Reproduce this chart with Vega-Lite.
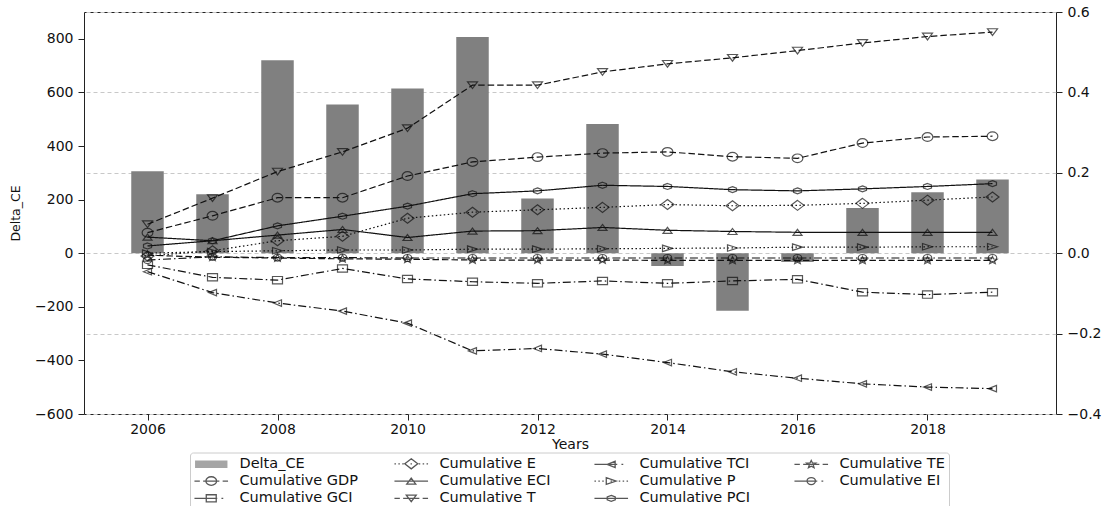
{
  "$schema": "https://vega.github.io/schema/vega-lite/v6.json",
  "width": 972,
  "height": 402,
  "autosize": {"type": "none"},
  "padding": {"left": 84, "top": 12, "right": 50, "bottom": 92},
  "background": "white",
  "datasets": {
    "bars": [
      {"year": 2006, "Delta_CE": 306}, {"year": 2007, "Delta_CE": 220}, {"year": 2008, "Delta_CE": 720},
      {"year": 2009, "Delta_CE": 555}, {"year": 2010, "Delta_CE": 615}, {"year": 2011, "Delta_CE": 807},
      {"year": 2012, "Delta_CE": 204}, {"year": 2013, "Delta_CE": 482}, {"year": 2014, "Delta_CE": -48},
      {"year": 2015, "Delta_CE": -215}, {"year": 2016, "Delta_CE": -33}, {"year": 2017, "Delta_CE": 169},
      {"year": 2018, "Delta_CE": 227}, {"year": 2019, "Delta_CE": 275}
    ],
    "lines": [
      {"year": 2006, "series": "Cumulative GDP", "v": 0.051}, {"year": 2007, "series": "Cumulative GDP", "v": 0.093}, {"year": 2008, "series": "Cumulative GDP", "v": 0.138}, {"year": 2009, "series": "Cumulative GDP", "v": 0.138}, {"year": 2010, "series": "Cumulative GDP", "v": 0.192}, {"year": 2011, "series": "Cumulative GDP", "v": 0.227}, {"year": 2012, "series": "Cumulative GDP", "v": 0.239}, {"year": 2013, "series": "Cumulative GDP", "v": 0.249}, {"year": 2014, "series": "Cumulative GDP", "v": 0.252}, {"year": 2015, "series": "Cumulative GDP", "v": 0.240}, {"year": 2016, "series": "Cumulative GDP", "v": 0.236}, {"year": 2017, "series": "Cumulative GDP", "v": 0.274}, {"year": 2018, "series": "Cumulative GDP", "v": 0.289}, {"year": 2019, "series": "Cumulative GDP", "v": 0.291},
      {"year": 2006, "series": "Cumulative T", "v": 0.072}, {"year": 2007, "series": "Cumulative T", "v": 0.137}, {"year": 2008, "series": "Cumulative T", "v": 0.203}, {"year": 2009, "series": "Cumulative T", "v": 0.252}, {"year": 2010, "series": "Cumulative T", "v": 0.311}, {"year": 2011, "series": "Cumulative T", "v": 0.418}, {"year": 2012, "series": "Cumulative T", "v": 0.418}, {"year": 2013, "series": "Cumulative T", "v": 0.451}, {"year": 2014, "series": "Cumulative T", "v": 0.471}, {"year": 2015, "series": "Cumulative T", "v": 0.486}, {"year": 2016, "series": "Cumulative T", "v": 0.504}, {"year": 2017, "series": "Cumulative T", "v": 0.523}, {"year": 2018, "series": "Cumulative T", "v": 0.539}, {"year": 2019, "series": "Cumulative T", "v": 0.550},
      {"year": 2006, "series": "Cumulative PCI", "v": 0.018}, {"year": 2007, "series": "Cumulative PCI", "v": 0.031}, {"year": 2008, "series": "Cumulative PCI", "v": 0.068}, {"year": 2009, "series": "Cumulative PCI", "v": 0.092}, {"year": 2010, "series": "Cumulative PCI", "v": 0.117}, {"year": 2011, "series": "Cumulative PCI", "v": 0.148}, {"year": 2012, "series": "Cumulative PCI", "v": 0.155}, {"year": 2013, "series": "Cumulative PCI", "v": 0.169}, {"year": 2014, "series": "Cumulative PCI", "v": 0.166}, {"year": 2015, "series": "Cumulative PCI", "v": 0.158}, {"year": 2016, "series": "Cumulative PCI", "v": 0.155}, {"year": 2017, "series": "Cumulative PCI", "v": 0.160}, {"year": 2018, "series": "Cumulative PCI", "v": 0.166}, {"year": 2019, "series": "Cumulative PCI", "v": 0.173},
      {"year": 2006, "series": "Cumulative E", "v": -0.007}, {"year": 2007, "series": "Cumulative E", "v": 0.006}, {"year": 2008, "series": "Cumulative E", "v": 0.031}, {"year": 2009, "series": "Cumulative E", "v": 0.042}, {"year": 2010, "series": "Cumulative E", "v": 0.087}, {"year": 2011, "series": "Cumulative E", "v": 0.102}, {"year": 2012, "series": "Cumulative E", "v": 0.108}, {"year": 2013, "series": "Cumulative E", "v": 0.114}, {"year": 2014, "series": "Cumulative E", "v": 0.121}, {"year": 2015, "series": "Cumulative E", "v": 0.118}, {"year": 2016, "series": "Cumulative E", "v": 0.119}, {"year": 2017, "series": "Cumulative E", "v": 0.124}, {"year": 2018, "series": "Cumulative E", "v": 0.132}, {"year": 2019, "series": "Cumulative E", "v": 0.140},
      {"year": 2006, "series": "Cumulative ECI", "v": 0.040}, {"year": 2007, "series": "Cumulative ECI", "v": 0.031}, {"year": 2008, "series": "Cumulative ECI", "v": 0.045}, {"year": 2009, "series": "Cumulative ECI", "v": 0.059}, {"year": 2010, "series": "Cumulative ECI", "v": 0.039}, {"year": 2011, "series": "Cumulative ECI", "v": 0.055}, {"year": 2012, "series": "Cumulative ECI", "v": 0.056}, {"year": 2013, "series": "Cumulative ECI", "v": 0.064}, {"year": 2014, "series": "Cumulative ECI", "v": 0.057}, {"year": 2015, "series": "Cumulative ECI", "v": 0.054}, {"year": 2016, "series": "Cumulative ECI", "v": 0.052}, {"year": 2017, "series": "Cumulative ECI", "v": 0.052}, {"year": 2018, "series": "Cumulative ECI", "v": 0.052}, {"year": 2019, "series": "Cumulative ECI", "v": 0.052},
      {"year": 2006, "series": "Cumulative P", "v": 0.000}, {"year": 2007, "series": "Cumulative P", "v": 0.004}, {"year": 2008, "series": "Cumulative P", "v": 0.006}, {"year": 2009, "series": "Cumulative P", "v": 0.008}, {"year": 2010, "series": "Cumulative P", "v": 0.008}, {"year": 2011, "series": "Cumulative P", "v": 0.010}, {"year": 2012, "series": "Cumulative P", "v": 0.010}, {"year": 2013, "series": "Cumulative P", "v": 0.011}, {"year": 2014, "series": "Cumulative P", "v": 0.012}, {"year": 2015, "series": "Cumulative P", "v": 0.013}, {"year": 2016, "series": "Cumulative P", "v": 0.015}, {"year": 2017, "series": "Cumulative P", "v": 0.015}, {"year": 2018, "series": "Cumulative P", "v": 0.016}, {"year": 2019, "series": "Cumulative P", "v": 0.016},
      {"year": 2006, "series": "Cumulative EI", "v": -0.017}, {"year": 2007, "series": "Cumulative EI", "v": -0.009}, {"year": 2008, "series": "Cumulative EI", "v": -0.011}, {"year": 2009, "series": "Cumulative EI", "v": -0.011}, {"year": 2010, "series": "Cumulative EI", "v": -0.012}, {"year": 2011, "series": "Cumulative EI", "v": -0.012}, {"year": 2012, "series": "Cumulative EI", "v": -0.012}, {"year": 2013, "series": "Cumulative EI", "v": -0.012}, {"year": 2014, "series": "Cumulative EI", "v": -0.012}, {"year": 2015, "series": "Cumulative EI", "v": -0.012}, {"year": 2016, "series": "Cumulative EI", "v": -0.012}, {"year": 2017, "series": "Cumulative EI", "v": -0.012}, {"year": 2018, "series": "Cumulative EI", "v": -0.012}, {"year": 2019, "series": "Cumulative EI", "v": -0.012},
      {"year": 2006, "series": "Cumulative TE", "v": -0.005}, {"year": 2007, "series": "Cumulative TE", "v": -0.010}, {"year": 2008, "series": "Cumulative TE", "v": -0.012}, {"year": 2009, "series": "Cumulative TE", "v": -0.014}, {"year": 2010, "series": "Cumulative TE", "v": -0.015}, {"year": 2011, "series": "Cumulative TE", "v": -0.017}, {"year": 2012, "series": "Cumulative TE", "v": -0.017}, {"year": 2013, "series": "Cumulative TE", "v": -0.017}, {"year": 2014, "series": "Cumulative TE", "v": -0.018}, {"year": 2015, "series": "Cumulative TE", "v": -0.018}, {"year": 2016, "series": "Cumulative TE", "v": -0.018}, {"year": 2017, "series": "Cumulative TE", "v": -0.018}, {"year": 2018, "series": "Cumulative TE", "v": -0.018}, {"year": 2019, "series": "Cumulative TE", "v": -0.018},
      {"year": 2006, "series": "Cumulative GCI", "v": -0.029}, {"year": 2007, "series": "Cumulative GCI", "v": -0.060}, {"year": 2008, "series": "Cumulative GCI", "v": -0.067}, {"year": 2009, "series": "Cumulative GCI", "v": -0.038}, {"year": 2010, "series": "Cumulative GCI", "v": -0.064}, {"year": 2011, "series": "Cumulative GCI", "v": -0.071}, {"year": 2012, "series": "Cumulative GCI", "v": -0.075}, {"year": 2013, "series": "Cumulative GCI", "v": -0.069}, {"year": 2014, "series": "Cumulative GCI", "v": -0.075}, {"year": 2015, "series": "Cumulative GCI", "v": -0.069}, {"year": 2016, "series": "Cumulative GCI", "v": -0.065}, {"year": 2017, "series": "Cumulative GCI", "v": -0.097}, {"year": 2018, "series": "Cumulative GCI", "v": -0.103}, {"year": 2019, "series": "Cumulative GCI", "v": -0.097},
      {"year": 2006, "series": "Cumulative TCI", "v": -0.046}, {"year": 2007, "series": "Cumulative TCI", "v": -0.098}, {"year": 2008, "series": "Cumulative TCI", "v": -0.124}, {"year": 2009, "series": "Cumulative TCI", "v": -0.144}, {"year": 2010, "series": "Cumulative TCI", "v": -0.174}, {"year": 2011, "series": "Cumulative TCI", "v": -0.243}, {"year": 2012, "series": "Cumulative TCI", "v": -0.237}, {"year": 2013, "series": "Cumulative TCI", "v": -0.251}, {"year": 2014, "series": "Cumulative TCI", "v": -0.272}, {"year": 2015, "series": "Cumulative TCI", "v": -0.295}, {"year": 2016, "series": "Cumulative TCI", "v": -0.311}, {"year": 2017, "series": "Cumulative TCI", "v": -0.325}, {"year": 2018, "series": "Cumulative TCI", "v": -0.333}, {"year": 2019, "series": "Cumulative TCI", "v": -0.337}
    ]
  },
  "layer": [
    {
      "data": {"name": "bars"},
      "mark": {"type": "bar", "width": 32.5, "color": "#808080"},
      "encoding": {
        "x": {"field": "year", "type": "quantitative", "scale": {"domain": [2005.1, 2019.9], "nice": false, "zero": false},
              "axis": {"values": [2006, 2008, 2010, 2012, 2014, 2016, 2018], "format": "d", "title": "Years", "grid": false, "titlePadding": 1, "labelPadding": 2}},
        "y": {"field": "Delta_CE", "type": "quantitative", "scale": {"domain": [-600, 900], "nice": false},
              "axis": {"values": [-600, -400, -200, 0, 200, 400, 600, 800], "format": "d", "title": "Delta_CE", "titleFontSize": 12.5, "grid": false, "titlePadding": 12, "labelPadding": 5}}
      }
    },
    {
      "data": {"name": "lines"},
      "encoding": {
        "x": {"field": "year", "type": "quantitative", "scale": {"domain": [2005.1, 2019.9], "nice": false, "zero": false},
              "axis": {"values": [2006, 2008, 2010, 2012, 2014, 2016, 2018], "format": "d", "title": "Years", "grid": false, "titlePadding": 1, "labelPadding": 2}},
        "y": {"field": "v", "type": "quantitative", "scale": {"domain": [-0.4, 0.6], "nice": false, "zero": false},
              "axis": {"orient": "right", "values": [-0.4, -0.2, 0, 0.2, 0.4, 0.6], "format": ".1f", "title": null, "grid": true, "gridDash": [4, 3], "gridColor": "#c8c8c8", "gridWidth": 1, "labelPadding": 5}}
      },
      "layer": [
        {
          "mark": {"type": "line", "color": "#111111", "strokeWidth": 1.2},
          "encoding": {
            "strokeDash": {"field": "series", "type": "nominal", "legend": null,
              "scale": {"domain": ["Cumulative GDP", "Cumulative GCI", "Cumulative E", "Cumulative ECI", "Cumulative T", "Cumulative TCI", "Cumulative P", "Cumulative PCI", "Cumulative TE", "Cumulative EI"],
                        "range": [[6.5, 3], [8, 3, 1.5, 3], [1.5, 2.5], [1, 0], [6.5, 3], [8, 3, 1.5, 3], [1.5, 2.5], [1, 0], [6.5, 3], [8, 3, 1.5, 3]]}}
          }
        },
        {"transform": [{"filter": "datum.series == 'Cumulative GDP'"}], "mark": {"type": "point", "filled": false, "color": "#111111", "strokeWidth": 1.2, "size": 100, "shape": "M1.07,0 A1.07,0.87 0 1,1 -1.07,0 A1.07,0.87 0 1,1 1.07,0 Z"}},
        {"transform": [{"filter": "datum.series == 'Cumulative T'"}], "mark": {"type": "point", "filled": false, "color": "#111111", "strokeWidth": 1.2, "size": 100, "shape": "M-1,-0.67 L1,-0.67 L0,0.67 Z"}},
        {"transform": [{"filter": "datum.series == 'Cumulative PCI'"}], "mark": {"type": "point", "filled": false, "color": "#111111", "strokeWidth": 1.2, "size": 100, "shape": "M0,-0.6 L0.8,-0.3 L0.8,0.3 L0,0.6 L-0.8,0.3 L-0.8,-0.3 Z"}},
        {"transform": [{"filter": "datum.series == 'Cumulative E'"}], "mark": {"type": "point", "filled": false, "color": "#111111", "strokeWidth": 1.2, "size": 100, "shape": "M0,-1 L1.3,0 L0,1 L-1.3,0 Z"}},
        {"transform": [{"filter": "datum.series == 'Cumulative ECI'"}], "mark": {"type": "point", "filled": false, "color": "#111111", "strokeWidth": 1.2, "size": 100, "shape": "M0,-0.6 L0.9,0.6 L-0.9,0.6 Z"}},
        {"transform": [{"filter": "datum.series == 'Cumulative P'"}], "mark": {"type": "point", "filled": false, "color": "#111111", "strokeWidth": 1.2, "size": 100, "shape": "M1,0 L-1,-0.65 L-1,0.65 Z"}},
        {"transform": [{"filter": "datum.series == 'Cumulative EI'"}], "mark": {"type": "point", "filled": false, "color": "#111111", "strokeWidth": 1.2, "size": 100, "shape": "M0.85,0 A0.85,0.7 0 1,1 -0.85,0 A0.85,0.7 0 1,1 0.85,0 Z"}},
        {"transform": [{"filter": "datum.series == 'Cumulative TE'"}], "mark": {"type": "point", "filled": false, "color": "#111111", "strokeWidth": 1.2, "size": 100, "shape": "M0,-0.8 L0.247,-0.283 L0.903,-0.247 L0.399,0.108 L0.559,0.647 L0,0.35 L-0.559,0.647 L-0.399,0.108 L-0.903,-0.247 L-0.247,-0.283 Z"}},
        {"transform": [{"filter": "datum.series == 'Cumulative GCI'"}], "mark": {"type": "point", "filled": false, "color": "#111111", "strokeWidth": 1.2, "size": 100, "shape": "M-1,-0.73 H1 V0.73 H-1 Z"}},
        {"transform": [{"filter": "datum.series == 'Cumulative TCI'"}], "mark": {"type": "point", "filled": false, "color": "#111111", "strokeWidth": 1.2, "size": 100, "shape": "M-0.8,0 L0.8,-0.65 L0.8,0.65 Z"}},
        {
          "transform": [{"filter": "datum.year < 0"}],
          "mark": {"type": "point", "filled": false, "strokeWidth": 1.3, "size": 144},
          "encoding": {
            "x": {"field": "year", "type": "quantitative"},
            "shape": {"field": "series", "type": "nominal",
              "scale": {
                "domain": ["Delta_CE", "Cumulative GDP", "Cumulative GCI", "Cumulative E", "Cumulative ECI", "Cumulative T", "Cumulative TCI", "Cumulative P", "Cumulative PCI", "Cumulative TE", "Cumulative EI"],
                "range": [
                  "M-2.7,-0.55 L2.7,-0.55 M-2.7,-0.4 L2.7,-0.4 M-2.7,-0.25 L2.7,-0.25 M-2.7,-0.1 L2.7,-0.1 M-2.7,0.05 L2.7,0.05 M-2.7,0.2 L2.7,0.2 M-2.7,0.35 L2.7,0.35 M-2.7,0.5 L2.7,0.5",
                  "M-2.8,0 L-1.9,0 M-1.35,0 L1.35,0 M1.9,0 L2.8,0 M0.89,0 A0.89,0.72 0 1,1 -0.89,0 A0.89,0.72 0 1,1 0.89,0 Z",
                  "M-2.8,0 L1.0,0 M1.7,0 L2.0,0 M-0.83,-0.6 H0.83 V0.6 H-0.83 Z",
                  "M-2.8,0 L-2.55,0 M-2.15,0 L-1.9,0 M-1.5,0 L-1.25,0 M-0.12,0 L0.12,0 M1.25,0 L1.5,0 M1.9,0 L2.15,0 M2.55,0 L2.8,0 M0,-0.83 L1.08,0 L0,0.83 L-1.08,0 Z",
                  "M-2.8,0 L2.8,0 M0,-0.5 L0.75,0.5 L-0.75,0.5 Z",
                  "M-2.8,0 L-1.9,0 M-1.35,0 L1.35,0 M1.9,0 L2.8,0 M-0.83,-0.55 L0.83,-0.55 L0,0.55 Z",
                  "M-2.8,0 L1.0,0 M1.7,0 L2.0,0 M-0.65,0 L0.65,-0.52 L0.65,0.52 Z",
                  "M-2.8,0 L-2.55,0 M-2.15,0 L-1.9,0 M-1.5,0 L-1.25,0 M-0.12,0 L0.12,0 M1.25,0 L1.5,0 M1.9,0 L2.15,0 M2.55,0 L2.8,0 M0.83,0 L-0.83,-0.55 L-0.83,0.55 Z",
                  "M-2.8,0 L2.8,0 M0,-0.5 L0.67,-0.25 L0.67,0.25 L0,0.5 L-0.67,0.25 L-0.67,-0.25 Z",
                  "M-2.8,0 L-1.9,0 M-1.35,0 L1.35,0 M1.9,0 L2.8,0 M0,-0.66 L0.205,-0.235 L0.75,-0.205 L0.331,0.09 L0.464,0.537 L0,0.29 L-0.464,0.537 L-0.331,0.09 L-0.75,-0.205 L-0.205,-0.235 Z",
                  "M-2.8,0 L1.0,0 M1.7,0 L2.0,0 M0.7,0 A0.7,0.58 0 1,1 -0.7,0 A0.7,0.58 0 1,1 0.7,0 Z"
                ]
              },
              "legend": {"title": null, "orient": "none", "legendX": 106, "legendY": 440.5, "columns": 4, "gridAlign": "all", "columnPadding": 32, "rowPadding": 1.3, "symbolSize": 144, "symbolStrokeWidth": 1.3, "symbolOffset": 10, "labelOffset": 21, "padding": 4}
            },
            "color": {"field": "series", "type": "nominal",
              "scale": {
                "domain": ["Delta_CE", "Cumulative GDP", "Cumulative GCI", "Cumulative E", "Cumulative ECI", "Cumulative T", "Cumulative TCI", "Cumulative P", "Cumulative PCI", "Cumulative TE", "Cumulative EI"],
                "range": ["#808080", "#111111", "#111111", "#111111", "#111111", "#111111", "#111111", "#111111", "#111111", "#111111", "#111111"]
              },
              "legend": {"title": null, "orient": "none", "legendX": 106, "legendY": 440.5, "columns": 4, "gridAlign": "all", "columnPadding": 32, "rowPadding": 1.3, "symbolSize": 144, "symbolStrokeWidth": 1.3, "symbolOffset": 10, "labelOffset": 21, "padding": 4}
            }
          }
        }
      ]
    }
  ],
  "resolve": {"scale": {"y": "independent"}},
  "config": {
    "view": {"stroke": "#222222", "strokeWidth": 1},
    "axis": {"labelFont": "DejaVu Sans", "labelFontSize": 14, "labelColor": "#111111", "titleFont": "DejaVu Sans", "titleFontSize": 14, "titleFontWeight": "normal", "titleColor": "#111111", "tickColor": "#222222", "tickSize": 6, "tickWidth": 1, "domain": false},
    "legend": {"labelFont": "DejaVu Sans", "labelFontSize": 14.5, "labelColor": "#111111", "strokeColor": "#cccccc", "fillColor": "white", "cornerRadius": 3, "symbolType": "circle"}
  }
}
